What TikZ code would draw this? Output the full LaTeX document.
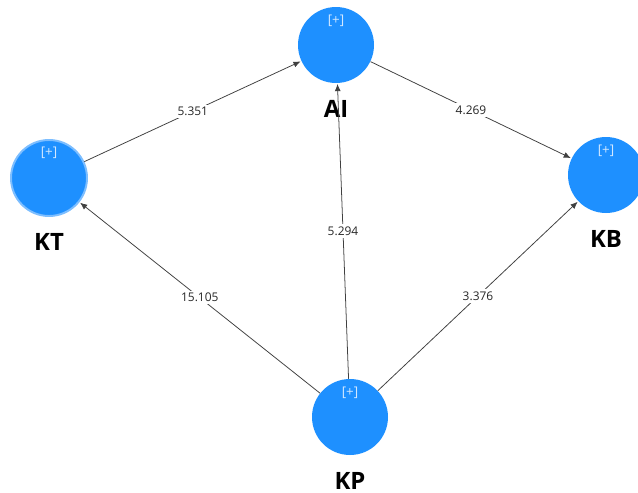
\documentclass[tikz,border=0pt]{standalone}
\usepackage{fontspec}
\setmainfont{Open Sans}
\usepackage{xcolor}
\usepackage{tikz}
\usetikzlibrary{arrows.meta,positioning,calc}
\definecolor{lvblue}{RGB}{30,144,255}
\definecolor{lvring}{RGB}{125,190,255}
\definecolor{lvplus}{RGB}{210,232,255}
\tikzset{
  lvnode/.style={circle,fill=lvblue,minimum size=1.9cm,inner sep=0pt},
  lvsel/.style={lvnode,draw=lvring,line width=1.4pt},
  lvplus/.style={font=\fontsize{9.5}{10}\selectfont,text=lvplus,inner sep=0pt},
  lvname/.style={font=\fontsize{17}{18}\selectfont\bfseries,inner sep=0pt,text depth=0pt},
  pathcoef/.style={-{Latex[length=1.8mm,width=1.5mm]},black!75,line width=0.55pt,shorten >=0.5pt},
  coeflab/.style={font=\fontsize{8.5}{10}\selectfont,midway,fill=white,inner sep=1.5pt,text=black!85}
}

\begin{document}
\begin{tikzpicture}
  \useasboundingbox (0,0) rectangle (15.95,-12.325);
  % latent variables
  \node[lvnode] (ai) at (8.4,-1.125) {};
  \node[lvsel]  (kt) at (1.225,-4.45) {};
  \node[lvnode] (kb) at (15.15,-4.375) {};
  \node[lvnode] (kp) at (8.75,-10.425) {};
  \foreach \lv in {ai,kt,kb,kp}
    \node[lvplus,below=0.2cm of \lv.north] {[+]};
  \node[lvname,below=0.41cm of ai] (ailab) {AI};
  \node[lvname,below=0.41cm of kt] (ktlab) {KT};
  \node[lvname,below=0.41cm of kb] (kblab) {KB};
  \node[lvname,below=0.41cm of kp] (kplab) {KP};
  % path coefficients
  \draw[pathcoef] (kt)--(ai) node[coeflab]{5.351};
  \draw[pathcoef] (ai)--(kb) node[coeflab]{4.269};
  \draw[pathcoef] (kp)--(ai) node[coeflab]{5.294};
  \draw[pathcoef] (kp)--(kt) node[coeflab]{15.105};
  \draw[pathcoef] (kp)--(kb) node[coeflab]{3.376};
\end{tikzpicture}
\end{document}
